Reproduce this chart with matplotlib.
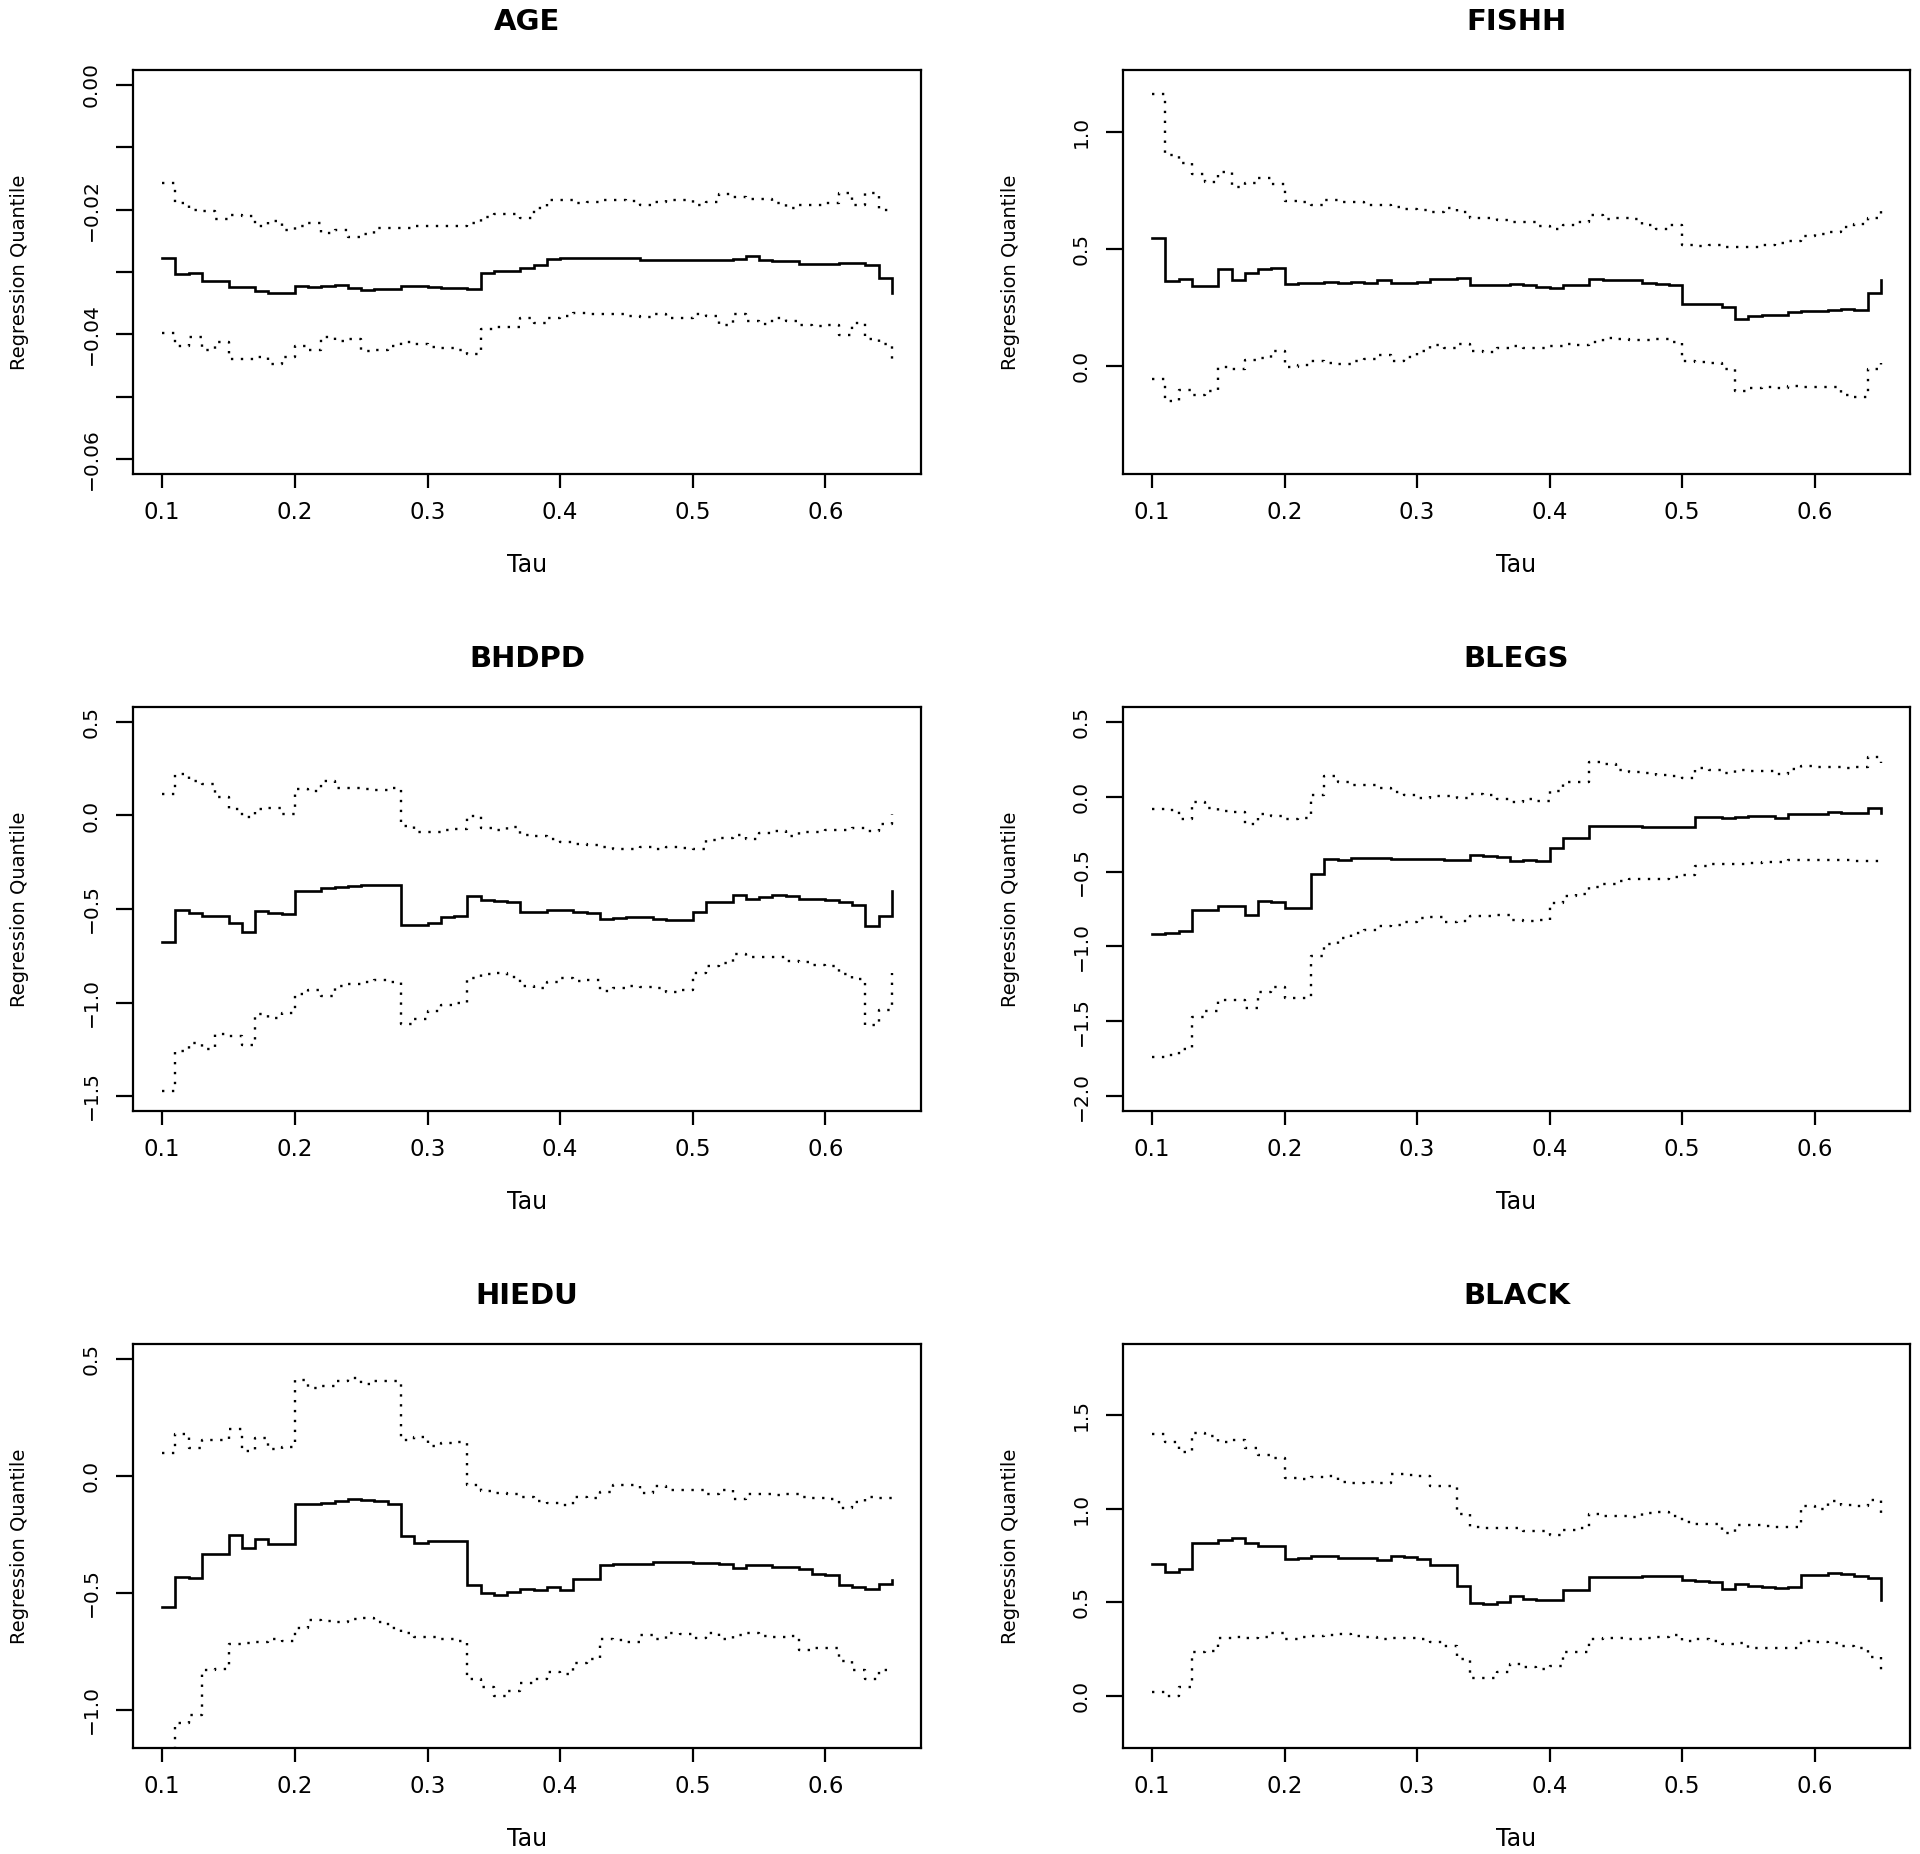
import matplotlib
matplotlib.use('Agg')
import matplotlib.pyplot as plt

plt.rcParams['font.family'] = ['DejaVu Sans']

tau = [0.10, 0.11, 0.12, 0.13, 0.14, 0.15, 0.16, 0.17, 0.18, 0.19,
       0.20, 0.21, 0.22, 0.23, 0.24, 0.25, 0.26, 0.27, 0.28, 0.29,
       0.30, 0.31, 0.32, 0.33, 0.34, 0.35, 0.36, 0.37, 0.38, 0.39,
       0.40, 0.41, 0.42, 0.43, 0.44, 0.45, 0.46, 0.47, 0.48, 0.49,
       0.50, 0.51, 0.52, 0.53, 0.54, 0.55, 0.56, 0.57, 0.58, 0.59,
       0.60, 0.61, 0.62, 0.63, 0.64, 0.65]

x_ticks = [0.1, 0.2, 0.3, 0.4, 0.5, 0.6]
x_ticklabels = ['0.1', '0.2', '0.3', '0.4', '0.5', '0.6']

# ---------------- AGE ----------------
age_coef = [-0.0278, -0.0304, -0.0301, -0.0314, -0.0315, -0.0324, -0.0324, -0.0331, -0.0334, -0.0334,
            -0.0323, -0.0324, -0.0322, -0.0321, -0.0326, -0.0329, -0.0328, -0.0328, -0.0323, -0.0323,
            -0.0324, -0.0325, -0.0325, -0.0327, -0.0302, -0.0298, -0.0298, -0.0293, -0.0288, -0.0279,
            -0.0278, -0.0277, -0.0277, -0.0277, -0.0277, -0.0277, -0.0280, -0.0280, -0.0280, -0.0280,
            -0.0280, -0.0280, -0.0280, -0.0279, -0.0274, -0.0281, -0.0283, -0.0283, -0.0287, -0.0287,
            -0.0287, -0.0286, -0.0286, -0.0289, -0.0310, -0.0334]
age_upper = [-0.0157, -0.0189, -0.0200, -0.0202, -0.0215, -0.0209, -0.0210, -0.0226, -0.0218, -0.0232,
             -0.0227, -0.0221, -0.0238, -0.0232, -0.0244, -0.0239, -0.0229, -0.0229, -0.0230, -0.0227,
             -0.0227, -0.0226, -0.0226, -0.0221, -0.0212, -0.0207, -0.0207, -0.0213, -0.0198, -0.0184,
             -0.0184, -0.0189, -0.0188, -0.0185, -0.0185, -0.0186, -0.0192, -0.0188, -0.0185, -0.0185,
             -0.0193, -0.0187, -0.0175, -0.0180, -0.0183, -0.0183, -0.0190, -0.0198, -0.0193, -0.0192,
             -0.0189, -0.0174, -0.0192, -0.0174, -0.0201, -0.0204]
age_lower = [-0.0398, -0.0419, -0.0404, -0.0425, -0.0413, -0.0440, -0.0439, -0.0437, -0.0447, -0.0437,
             -0.0419, -0.0425, -0.0404, -0.0410, -0.0407, -0.0427, -0.0425, -0.0419, -0.0413, -0.0415,
             -0.0421, -0.0422, -0.0425, -0.0431, -0.0391, -0.0388, -0.0388, -0.0374, -0.0382, -0.0373,
             -0.0370, -0.0366, -0.0367, -0.0368, -0.0368, -0.0370, -0.0372, -0.0368, -0.0373, -0.0374,
             -0.0367, -0.0370, -0.0385, -0.0368, -0.0379, -0.0384, -0.0373, -0.0378, -0.0385, -0.0387,
             -0.0385, -0.0401, -0.0382, -0.0407, -0.0416, -0.0447]
age_yticks = [-0.06, -0.05, -0.04, -0.03, -0.02, -0.01, 0.00]
age_yticklabels = ['\u22120.06', '', '\u22120.04', '', '\u22120.02', '', '0.00']

# ---------------- FISHH ----------------
fishh_coef = [0.547, 0.362, 0.370, 0.338, 0.338, 0.411, 0.367, 0.395, 0.414, 0.419,
              0.349, 0.351, 0.354, 0.359, 0.354, 0.359, 0.354, 0.365, 0.351, 0.351,
              0.359, 0.370, 0.372, 0.375, 0.344, 0.344, 0.344, 0.349, 0.344, 0.334,
              0.330, 0.344, 0.344, 0.370, 0.367, 0.365, 0.367, 0.352, 0.347, 0.346,
              0.264, 0.261, 0.264, 0.251, 0.199, 0.210, 0.214, 0.215, 0.227, 0.232,
              0.235, 0.237, 0.240, 0.237, 0.310, 0.365]
fishh_upper = [1.162, 0.900, 0.868, 0.819, 0.786, 0.827, 0.762, 0.781, 0.803, 0.778,
               0.705, 0.701, 0.688, 0.710, 0.701, 0.701, 0.688, 0.685, 0.680, 0.669,
               0.664, 0.656, 0.672, 0.656, 0.631, 0.631, 0.623, 0.615, 0.612, 0.595,
               0.582, 0.599, 0.615, 0.644, 0.628, 0.631, 0.628, 0.599, 0.586, 0.599,
               0.517, 0.512, 0.517, 0.509, 0.506, 0.506, 0.514, 0.522, 0.533, 0.553,
               0.563, 0.571, 0.591, 0.607, 0.631, 0.680]
fishh_lower = [-0.059, -0.152, -0.103, -0.124, -0.111, -0.005, -0.013, 0.024, 0.033, 0.060,
               -0.008, 0.003, 0.020, 0.011, 0.007, 0.020, 0.028, 0.044, 0.020, 0.036,
               0.060, 0.088, 0.073, 0.093, 0.060, 0.057, 0.073, 0.085, 0.073, 0.077,
               0.085, 0.093, 0.088, 0.101, 0.117, 0.114, 0.109, 0.109, 0.113, 0.101,
               0.020, 0.015, 0.011, -0.013, -0.111, -0.095, -0.091, -0.095, -0.086, -0.091,
               -0.091, -0.091, -0.127, -0.135, -0.013, 0.011]
fishh_yticks = [0.0, 0.5, 1.0]
fishh_yticklabels = ['0.0', '0.5', '1.0']

# ---------------- BHDPD ----------------
bhdpd_coef = [-0.678, -0.506, -0.520, -0.535, -0.535, -0.576, -0.622, -0.510, -0.524, -0.529,
              -0.406, -0.402, -0.388, -0.380, -0.376, -0.371, -0.371, -0.371, -0.588, -0.586,
              -0.576, -0.541, -0.539, -0.433, -0.453, -0.459, -0.463, -0.518, -0.514, -0.508,
              -0.508, -0.518, -0.522, -0.555, -0.549, -0.543, -0.545, -0.551, -0.557, -0.557,
              -0.514, -0.465, -0.463, -0.424, -0.447, -0.437, -0.424, -0.433, -0.445, -0.449,
              -0.453, -0.463, -0.478, -0.592, -0.535, -0.402]
bhdpd_upper = [0.114, 0.224, 0.184, 0.169, 0.098, 0.037, -0.008, 0.037, 0.041, 0.006,
               0.139, 0.133, 0.184, 0.149, 0.149, 0.143, 0.135, 0.149, -0.055, -0.086,
               -0.090, -0.078, -0.071, -0.004, -0.065, -0.076, -0.059, -0.106, -0.110, -0.127,
               -0.141, -0.151, -0.157, -0.171, -0.178, -0.178, -0.167, -0.178, -0.167, -0.173,
               -0.178, -0.131, -0.122, -0.106, -0.127, -0.096, -0.082, -0.112, -0.090, -0.086,
               -0.080, -0.080, -0.065, -0.082, -0.045, 0.006]
bhdpd_lower = [-1.473, -1.259, -1.218, -1.249, -1.167, -1.178, -1.229, -1.059, -1.082, -1.055,
               -0.953, -0.933, -0.967, -0.914, -0.902, -0.892, -0.878, -0.892, -1.116, -1.086,
               -1.045, -1.014, -1.004, -0.871, -0.845, -0.841, -0.865, -0.912, -0.922, -0.892,
               -0.871, -0.886, -0.882, -0.939, -0.922, -0.912, -0.918, -0.922, -0.943, -0.933,
               -0.841, -0.804, -0.790, -0.739, -0.759, -0.759, -0.755, -0.780, -0.784, -0.800,
               -0.806, -0.845, -0.876, -1.122, -1.041, -0.841]
bhdpd_yticks = [-1.5, -1.0, -0.5, 0.0, 0.5]
bhdpd_yticklabels = ['\u22121.5', '\u22121.0', '\u22120.5', '0.0', '0.5']

# ---------------- BLEGS ----------------
blegs_coef = [-0.916, -0.913, -0.900, -0.760, -0.760, -0.729, -0.731, -0.788, -0.698, -0.703,
              -0.742, -0.742, -0.517, -0.414, -0.422, -0.409, -0.409, -0.407, -0.414, -0.414,
              -0.414, -0.419, -0.422, -0.422, -0.391, -0.399, -0.402, -0.430, -0.422, -0.432,
              -0.345, -0.276, -0.276, -0.192, -0.192, -0.192, -0.194, -0.202, -0.202, -0.202,
              -0.202, -0.133, -0.136, -0.141, -0.133, -0.130, -0.128, -0.143, -0.115, -0.115,
              -0.113, -0.105, -0.110, -0.107, -0.077, -0.107]
blegs_upper = [-0.082, -0.090, -0.148, -0.038, -0.077, -0.095, -0.102, -0.179, -0.115, -0.128,
               -0.148, -0.141, 0.013, 0.141, 0.102, 0.077, 0.077, 0.056, 0.031, 0.013,
               -0.008, 0.005, 0.005, -0.005, 0.020, 0.013, -0.013, -0.033, -0.013, -0.026,
               0.038, 0.102, 0.097, 0.230, 0.217, 0.179, 0.166, 0.159, 0.148, 0.141,
               0.123, 0.192, 0.179, 0.159, 0.179, 0.174, 0.171, 0.153, 0.187, 0.205,
               0.197, 0.199, 0.192, 0.197, 0.269, 0.225]
blegs_lower = [-1.739, -1.726, -1.688, -1.471, -1.432, -1.361, -1.361, -1.412, -1.304, -1.274,
               -1.343, -1.348, -1.061, -0.985, -0.946, -0.908, -0.890, -0.864, -0.857, -0.836,
               -0.813, -0.806, -0.839, -0.831, -0.798, -0.798, -0.788, -0.826, -0.831, -0.826,
               -0.711, -0.665, -0.647, -0.601, -0.583, -0.563, -0.552, -0.550, -0.547, -0.537,
               -0.524, -0.460, -0.448, -0.448, -0.448, -0.440, -0.435, -0.435, -0.422, -0.422,
               -0.422, -0.422, -0.422, -0.427, -0.427, -0.427]
blegs_yticks = [-2.0, -1.5, -1.0, -0.5, 0.0, 0.5]
blegs_yticklabels = ['\u22122.0', '\u22121.5', '\u22121.0', '\u22120.5', '0.0', '0.5']

# ---------------- HIEDU ----------------
hiedu_coef = [-0.561, -0.431, -0.439, -0.334, -0.334, -0.254, -0.307, -0.270, -0.291, -0.291,
              -0.119, -0.119, -0.116, -0.108, -0.097, -0.105, -0.108, -0.119, -0.256, -0.288,
              -0.277, -0.280, -0.280, -0.466, -0.502, -0.510, -0.498, -0.486, -0.490, -0.477,
              -0.490, -0.442, -0.442, -0.382, -0.375, -0.378, -0.375, -0.370, -0.367, -0.367,
              -0.374, -0.374, -0.378, -0.394, -0.382, -0.383, -0.390, -0.390, -0.399, -0.418,
              -0.426, -0.466, -0.474, -0.485, -0.463, -0.447]
hiedu_upper = [0.099, 0.178, 0.118, 0.154, 0.154, 0.202, 0.107, 0.162, 0.114, 0.122,
               0.409, 0.377, 0.385, 0.404, 0.420, 0.393, 0.405, 0.404, 0.154, 0.165,
               0.127, 0.141, 0.143, -0.037, -0.064, -0.073, -0.079, -0.092, -0.108, -0.116,
               -0.124, -0.089, -0.095, -0.068, -0.041, -0.041, -0.073, -0.045, -0.060, -0.060,
               -0.060, -0.079, -0.060, -0.100, -0.079, -0.076, -0.081, -0.079, -0.089, -0.095,
               -0.097, -0.137, -0.111, -0.092, -0.095, -0.068]
hiedu_lower = [-1.200, -1.059, -1.022, -0.831, -0.824, -0.720, -0.717, -0.709, -0.696, -0.707,
               -0.649, -0.617, -0.620, -0.625, -0.614, -0.606, -0.625, -0.649, -0.672, -0.688,
               -0.688, -0.696, -0.707, -0.871, -0.903, -0.943, -0.919, -0.884, -0.868, -0.839,
               -0.847, -0.800, -0.784, -0.696, -0.704, -0.712, -0.680, -0.696, -0.672, -0.677,
               -0.693, -0.672, -0.696, -0.680, -0.672, -0.685, -0.688, -0.685, -0.744, -0.736,
               -0.736, -0.792, -0.831, -0.868, -0.831, -0.831]
hiedu_yticks = [-1.0, -0.5, 0.0, 0.5]
hiedu_yticklabels = ['\u22121.0', '\u22120.5', '0.0', '0.5']

# ---------------- BLACK ----------------
black_coef = [0.706, 0.662, 0.676, 0.815, 0.815, 0.831, 0.845, 0.815, 0.801, 0.801,
              0.732, 0.736, 0.746, 0.746, 0.738, 0.736, 0.736, 0.726, 0.746, 0.742,
              0.732, 0.698, 0.696, 0.586, 0.493, 0.489, 0.503, 0.531, 0.519, 0.513,
              0.513, 0.563, 0.563, 0.636, 0.632, 0.632, 0.632, 0.642, 0.642, 0.638,
              0.616, 0.612, 0.606, 0.569, 0.598, 0.588, 0.583, 0.577, 0.579, 0.646,
              0.646, 0.658, 0.648, 0.638, 0.628, 0.513]
black_upper = [1.398, 1.358, 1.302, 1.402, 1.388, 1.358, 1.368, 1.322, 1.288, 1.268,
               1.163, 1.159, 1.169, 1.175, 1.143, 1.139, 1.143, 1.139, 1.183, 1.179,
               1.173, 1.123, 1.123, 0.970, 0.901, 0.895, 0.897, 0.897, 0.881, 0.881,
               0.857, 0.887, 0.895, 0.970, 0.960, 0.960, 0.956, 0.976, 0.980, 0.960,
               0.930, 0.917, 0.920, 0.867, 0.911, 0.911, 0.905, 0.901, 0.901, 1.016,
               1.000, 1.040, 1.020, 1.014, 1.044, 0.960]
black_lower = [0.020, -0.004, 0.046, 0.235, 0.241, 0.308, 0.314, 0.308, 0.314, 0.334,
               0.304, 0.314, 0.320, 0.324, 0.328, 0.320, 0.314, 0.304, 0.308, 0.308,
               0.304, 0.288, 0.264, 0.195, 0.095, 0.095, 0.125, 0.169, 0.155, 0.141,
               0.161, 0.235, 0.235, 0.304, 0.308, 0.308, 0.304, 0.308, 0.314, 0.324,
               0.294, 0.304, 0.294, 0.274, 0.284, 0.254, 0.254, 0.254, 0.254, 0.294,
               0.288, 0.284, 0.264, 0.254, 0.205, 0.105]
black_yticks = [0.0, 0.5, 1.0, 1.5]
black_yticklabels = ['0.0', '0.5', '1.0', '1.5']

titles = ['AGE', 'FISHH', 'BHDPD', 'BLEGS', 'HIEDU', 'BLACK']

panels = [
    (age_coef, age_upper, age_lower, (-0.0624, 0.0024), age_yticks, age_yticklabels),
    (fishh_coef, fishh_upper, fishh_lower, (-0.464, 1.264), fishh_yticks, fishh_yticklabels),
    (bhdpd_coef, bhdpd_upper, bhdpd_lower, (-1.58, 0.58), bhdpd_yticks, bhdpd_yticklabels),
    (blegs_coef, blegs_upper, blegs_lower, (-2.1, 0.6), blegs_yticks, blegs_yticklabels),
    (hiedu_coef, hiedu_upper, hiedu_lower, (-1.164, 0.564), hiedu_yticks, hiedu_yticklabels),
    (black_coef, black_upper, black_lower, (-0.28, 1.88), black_yticks, black_yticklabels),
]

W, H = 1920, 1854
fig = plt.figure(figsize=(W / 100, H / 100), dpi=100)
fig.patch.set_facecolor('white')

cols = [(133, 921), (1123, 1910)]
rows = [(70, 474), (707, 1111), (1344, 1748)]

for i, (title, (coef, upper, lower, ylim, yt, ytl)) in enumerate(zip(titles, panels)):
    r, c = divmod(i, 2)
    x0, x1 = cols[c]
    yt0, yb0 = rows[r]
    ax_w = x1 - x0
    ax_h = yb0 - yt0
    ax = fig.add_axes([x0 / W, 1 - yb0 / H, ax_w / W, ax_h / H])

    ax.step(tau, coef, where='post', color='black', lw=1.9, solid_joinstyle='miter')
    ax.step(tau, upper, where='post', color='black', lw=1.7, linestyle=(0, (1, 3.2)))
    ax.step(tau, lower, where='post', color='black', lw=1.7, linestyle=(0, (1, 3.2)))

    ax.set_xlim(0.078, 0.672)
    ax.set_ylim(*ylim)
    ax.set_xticks(x_ticks)
    ax.set_xticklabels(x_ticklabels)
    ax.set_yticks(yt)
    ax.set_yticklabels(ytl, rotation=90, va='center')

    ax.tick_params(axis='x', direction='out', length=10, width=1.6, pad=9.5, labelsize=16.5)
    ax.tick_params(axis='y', direction='out', length=12.2, width=1.6, pad=11, labelsize=14.5)
    for s in ax.spines.values():
        s.set_linewidth(1.6)

    ax.text(0.5, 1 + 40 / ax_h, title, transform=ax.transAxes, ha='center',
            va='baseline', fontsize=21, fontweight='bold')
    ax.text(0.5, -98 / ax_h, 'Tau', transform=ax.transAxes, ha='center',
            va='baseline', fontsize=17)
    ax.text(-113 / ax_w, 0.5, 'Regression Quantile', transform=ax.transAxes,
            rotation=90, ha='center', va='center', fontsize=14)

fig.savefig('out.png', dpi=100, facecolor='white')
